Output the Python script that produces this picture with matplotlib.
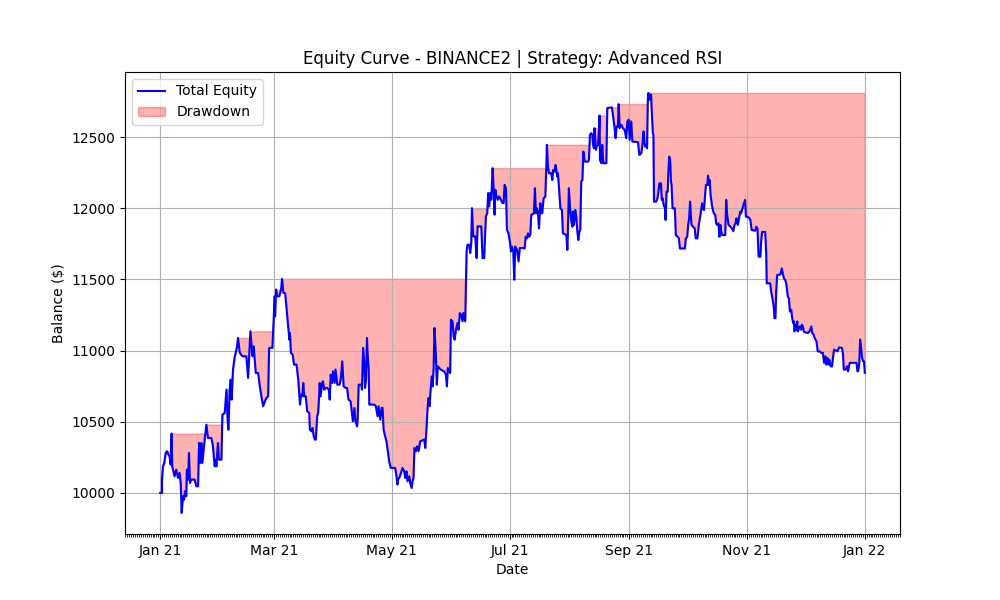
import numpy as np
import pandas as pd
import matplotlib
matplotlib.use("Agg")
import matplotlib.pyplot as plt
import matplotlib.dates as mdates

start_date = "2021-01-01"

# days since start_date
day_offsets = [
    0.0, 0.9, 0.9, 1.4, 2.1, 2.8, 3.5, 4.2, 4.8, 5.4, 5.9, 6.2, 7.4, 8.3, 9.2, 10.0, 10.6, 11.1, 11.8, 12.3,
    12.8, 13.5, 13.8, 14.4, 14.9, 15.4, 16.1, 17.8, 18.7, 19.6, 20.1, 20.8, 21.3, 21.8, 22.5, 23.2, 23.9, 24.7,
    26.5, 27.3, 28.2, 28.7, 29.1, 29.9, 30.4, 31.7, 32.2, 33.4, 34.3, 34.8, 35.3, 36.0, 36.5, 37.0, 37.7, 38.6,
    39.1, 39.8, 40.3, 41.2, 42.6, 44.6, 45.5, 46.0, 46.7, 47.8, 48.4, 49.5, 50.7, 51.6, 52.4, 53.3, 54.2, 55.0,
    55.9, 56.4, 58.1, 58.8, 59.3,
    59.5, 60.0, 60.7, 61.7, 62.6, 63.1, 63.8, 64.7, 65.5, 66.4, 66.9, 67.2, 67.7, 68.6, 69.3, 70.6, 71.5, 72.0,
    72.4, 72.9, 73.6, 74.1, 74.6, 75.4, 76.1, 77.2, 77.5, 78.3, 78.9, 79.5, 80.1, 80.6, 81.3, 81.8, 82.3, 82.6,
    83.1, 83.8, 84.3, 84.9, 85.7, 86.4, 87.4, 87.8, 88.3, 89.0, 89.5, 90.3, 90.8, 91.7, 92.9, 93.6, 94.3, 95.0,
    96.0, 96.8, 97.5, 98.6, 99.2, 99.8, 100.6, 101.1, 102.0, 102.3, 102.8, 104.2, 104.5, 105.1, 105.7, 106.1,
    106.6, 107.1, 107.4, 108.0, 108.3, 110.9, 111.7, 112.6, 113.1, 114.0, 114.7, 115.2, 115.7, 116.5, 117.2,
    117.9, 118.6, 119.4, 121.7, 122.4, 122.9,
    123.1, 123.8, 124.7, 125.5, 126.4, 126.9, 127.6, 128.1, 129.0, 129.5, 130.2, 130.7, 131.2, 131.7, 132.4,
    133.0, 133.8, 134.7, 136.8, 137.3, 138.0, 138.5, 139.0, 139.5, 140.0, 140.7, 141.1, 141.6, 142.1, 142.8,
    143.3, 143.8, 145.4, 147.1, 148.0, 148.5, 149.0, 150.2, 150.6, 151.4, 152.0, 152.5, 153.2, 154.0, 154.5,
    155.2, 155.8, 156.6, 157.0, 158.0, 158.7, 159.2, 160.1, 160.6, 161.1, 161.5, 162.1, 163.2, 163.9, 164.4,
    166.3, 167.0, 167.8, 168.7, 169.4, 169.9, 170.4, 170.9, 171.5, 172.2, 172.7, 173.2, 173.6, 174.2, 174.9,
    175.6, 176.5, 177.3, 177.9, 178.4, 179.1, 179.6, 180.4, 181.1, 181.7, 182.2, 182.9, 183.4, 183.9, 184.8,
    185.6, 186.3, 187.7,
    188.8, 189.3, 190.0, 190.5, 191.0, 191.7, 192.2, 193.6, 194.1, 194.6, 195.2, 195.7, 196.2, 196.9, 197.4,
    197.9, 198.6, 199.5, 200.0, 200.3, 200.9, 201.4, 202.6, 203.1, 203.6, 204.3, 204.8, 205.4, 205.7, 206.0,
    206.6, 207.3, 208.1, 208.6, 210.4, 210.9, 211.2, 211.7, 212.3, 213.0, 213.5, 213.8, 214.3, 215.0, 215.5,
    216.1, 216.6, 217.1, 217.6, 218.1, 218.7, 219.2, 219.9, 221.6, 222.1, 222.6, 223.3, 223.8, 224.2, 224.7,
    225.0, 225.7, 226.1, 226.8, 227.3, 227.6, 227.8, 228.5, 229.0, 229.5, 231.1, 231.6, 234.0, 234.7, 235.4,
    235.9, 236.4, 237.1, 237.5, 238.0, 238.9, 239.7, 240.6, 241.4, 242.0, 242.7, 243.2, 243.7, 244.0, 244.6,
    247.5, 248.2,
    249.2, 249.8, 250.4, 250.9, 251.2, 251.7, 252.2, 252.6, 252.9, 253.4, 253.8, 254.3, 254.6, 255.2, 255.5,
    255.8, 256.9, 257.6, 258.1, 258.6, 259.4, 259.8, 260.3, 260.8, 261.5, 261.8, 262.3, 262.9, 263.2, 263.7,
    264.2, 264.6, 264.9, 265.4, 266.6, 267.1, 268.0, 268.7, 269.2, 271.8, 272.3, 273.0, 273.5, 274.0, 274.5,
    275.2, 276.0, 276.9, 277.4, 278.3, 279.0, 280.0, 280.7, 281.2, 281.7, 282.2, 282.7, 283.4, 283.8, 284.3,
    284.6, 285.1, 285.8, 286.3, 286.8, 287.5, 288.0, 288.5, 289.2, 289.7, 290.2, 290.6, 291.1, 292.7, 293.2,
    293.7, 294.4, 295.4, 296.1, 296.9, 297.5, 298.0, 298.5, 299.2, 299.7, 300.4, 300.9, 301.4, 302.1, 303.0,
    303.4, 304.3, 305.2, 305.7, 306.4, 308.2, 308.8, 309.4, 310.0,
    310.9, 311.3, 311.8, 313.4, 313.9, 314.2, 316.0, 316.5, 317.3, 317.9, 318.2, 318.7, 319.1, 319.6, 321.3,
    322.0, 322.5, 323.1, 323.8, 324.3, 325.1, 325.7, 326.2, 326.9, 327.4, 327.9, 328.3, 328.6, 329.1, 329.6,
    330.0, 330.3, 330.9, 331.4, 332.1, 332.4, 332.9, 333.5, 335.5, 336.4, 337.3, 337.8, 338.5, 339.0, 339.5,
    340.0, 340.6, 341.6, 342.5, 343.3, 343.9, 344.6, 345.1, 345.6, 346.1, 346.6, 347.3, 348.0, 348.5, 349.1,
    350.8, 351.7, 353.2, 353.7, 354.1, 355.1, 355.8, 356.3, 357.2, 360.7, 361.2, 361.5, 362.1, 362.6, 363.1,
    363.6, 364.1, 364.6, 365.0,
]

total_equity = [
    10000, 10000, 10094, 10187, 10211, 10281, 10293, 10269, 10258, 10199, 10417, 10187, 10117, 10164, 10105, 10141, 10070, 9859, 9977, 9953,
    10012, 9977, 10164, 10094, 10281, 10070, 10094, 10094, 10047, 10047, 10351, 10211, 10351, 10211, 10304, 10398, 10480, 10386,
    10386, 10328, 10187, 10234, 10187, 10351, 10234, 10234, 10550, 10562, 10726, 10539, 10445, 10726, 10796, 10656, 10867, 10960,
    10984, 11030, 11089, 10984, 10960, 10960, 10808, 10937, 11136, 10960, 11030, 10843, 10843, 10749, 10679, 10609, 10644, 10667,
    10679, 11019, 11019, 11241, 11382,
    11241, 11429, 11382, 11382, 11429, 11504, 11405, 11405, 11288, 11148, 11077, 11124, 10984, 10972, 10902, 10902, 10796, 10703,
    10621, 10691, 10679, 10773, 10679, 10679, 10574, 10562, 10445, 10433, 10457, 10398, 10375, 10375, 10539, 10562, 10679, 10773,
    10679, 10773, 10785, 10726, 10738, 10738, 10726, 10656, 10831, 10773, 10855, 10773, 10867, 10761, 10761, 10808, 10925, 10749,
    10738, 10738, 10656, 10644, 10574, 10504, 10597, 10504, 10468, 10527, 10761, 10761, 10726, 11019, 10913, 10738,
    10796, 11089, 10984, 10867, 10621, 10621, 10609, 10539, 10609, 10515, 10597, 10597, 10445, 10398, 10363,
    10293, 10222, 10176, 10176, 10117, 10059,
    10094, 10105, 10140, 10176, 10152, 10105, 10152, 10082, 10117, 10070, 10035, 10082, 10105, 10316, 10293,
    10328, 10293, 10363, 10375, 10316, 10468, 10597, 10667, 10609, 10714, 10819, 10749, 10866, 11159, 10960,
    10761, 10890, 10866, 10854, 10831, 10749, 10878, 10843, 11217, 11206, 11100, 11077, 11147, 11194, 11147,
    11264, 11252, 11206, 11264, 11206, 11697, 11744, 11744, 11686, 11756, 12001, 11803, 11803, 11650, 11873,
    11873, 11650, 11650, 11943, 11966, 12107, 12013, 12107, 12060, 12282, 12142, 11955, 12130, 12083, 12060,
    12083, 12060, 12037, 12037, 12165, 12142, 11849, 11826, 11767, 11697, 11732, 11697, 11498, 11732, 11709,
    11627, 11721, 11721,
    11718, 11800, 11789, 11824, 11800, 11812, 11953, 11965, 12141, 11965, 12000, 11965, 11859, 12035, 11965,
    11965, 12070, 12082, 12282, 12446, 12282, 12246, 12246, 12199, 12270, 12258, 12305, 12246, 12223, 12246,
    12141, 12000, 11988, 11824, 11812, 11707, 11836, 12141, 12000, 11906, 11871, 11976, 11883, 11988, 11941,
    11836, 11777, 11836, 11847, 12188, 12199, 12399, 12328, 12328, 12340, 12516, 12528, 12516, 12446, 12422,
    12563, 12411, 12434, 12446, 12551, 12652, 12340, 12317, 12446, 12317, 12317, 12704, 12709, 12634, 12563,
    12493, 12575, 12575, 12732, 12563, 12587, 12563, 12551, 12493, 12610, 12622, 12481, 12563, 12610, 12469,
    12465, 12375,
    12387, 12446, 12540, 12458, 12434, 12446, 12422, 12763, 12810, 12763, 12798, 12798, 12692, 12528, 12516,
    12047, 12047, 12070, 12117, 12176, 12176, 12059, 12070, 12023, 12000, 11918, 12117, 12117, 12246, 12364,
    12328, 12188, 12164, 12000, 12000, 11812, 11800, 11789, 11718, 11718, 11789, 11800, 11883, 11929, 12047,
    11883, 11871, 11859, 11789, 11789, 11883, 11965, 12035, 12000, 11988, 12082, 12164, 12164, 12230, 12164,
    12199, 12094, 12023, 11988, 11965, 11953, 11894, 11883, 11894, 11800, 11883, 11836, 11812, 11812, 12059,
    11953, 11883, 11871, 11859, 11840, 11883, 11894, 11930, 11883, 11918, 11976, 11965, 11988, 12023, 12059,
    11941, 11941, 11930, 11918, 11847, 11843, 11871, 11859, 11660,
    11660, 11765, 11834, 11834, 11695, 11473, 11473, 11415, 11357, 11298, 11228, 11228, 11415, 11531, 11536,
    11578, 11543, 11508, 11496, 11473, 11380, 11368, 11275, 11287, 11228, 11193, 11205, 11135, 11182, 11147,
    11205, 11135, 11159, 11170, 11147, 11182, 11170, 11131, 11124, 11135, 11170, 11124, 11112, 11089, 11077,
    11065, 10995, 10995, 10984, 10984, 10914, 10960, 10902, 10949, 10902, 10937, 10890, 10890, 10949, 11007,
    10995, 11023, 11019, 10977, 10867, 10867, 10890, 10855, 10914, 10914, 10855, 10855, 10902, 11077, 11019,
    10949, 10925, 10925, 10844,
]

dates = pd.Timestamp(start_date) + pd.to_timedelta(np.array(day_offsets), unit="D")
equity = np.array(total_equity, dtype=float)
running_max = np.maximum.accumulate(equity)

fig, ax = plt.subplots(figsize=(10, 6), dpi=100)
ax.plot(dates, equity, color="blue", linewidth=1.5, label="Total Equity")
ax.fill_between(dates, equity, running_max, color="red", alpha=0.3, label="Drawdown")

ax.set_title("Equity Curve - BINANCE2 | Strategy: Advanced RSI")
ax.set_xlabel("Date")
ax.set_ylabel("Balance ($)")
ax.xaxis.set_major_locator(mdates.MonthLocator(interval=2))
ax.xaxis.set_major_formatter(mdates.DateFormatter("%b %y"))
ax.xaxis.set_minor_locator(mdates.DayLocator())
ax.grid(True)
ax.legend(loc="upper left")

fig.savefig("out.png", dpi=100)
